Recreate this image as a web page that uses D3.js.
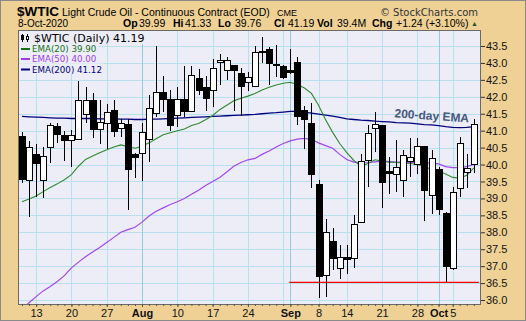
<!DOCTYPE html>
<html>
<head>
<meta charset="utf-8">
<script src="https://cdn.jsdelivr.net/npm/d3@7"></script>
<style>
  body { margin: 0; background: #fff; }
  svg { display: block; }
</style>
</head>
<body>
<div id="chart"></div>
<script>
// trading days shown on the chart
const dates = [
  "2020-07-09","2020-07-10","2020-07-13","2020-07-14","2020-07-15","2020-07-16","2020-07-17",
  "2020-07-20","2020-07-21","2020-07-22","2020-07-23","2020-07-24","2020-07-27","2020-07-28",
  "2020-07-29","2020-07-30","2020-07-31","2020-08-03","2020-08-04","2020-08-05","2020-08-06",
  "2020-08-07","2020-08-10","2020-08-11","2020-08-12","2020-08-13","2020-08-14","2020-08-17",
  "2020-08-18","2020-08-19","2020-08-20","2020-08-21","2020-08-24","2020-08-25","2020-08-26",
  "2020-08-27","2020-08-28","2020-08-31","2020-09-01","2020-09-02","2020-09-03","2020-09-04",
  "2020-09-08","2020-09-09","2020-09-10","2020-09-11","2020-09-14","2020-09-15","2020-09-16",
  "2020-09-17","2020-09-18","2020-09-21","2020-09-22","2020-09-23","2020-09-24","2020-09-25",
  "2020-09-28","2020-09-29","2020-09-30","2020-10-01","2020-10-02","2020-10-05","2020-10-06",
  "2020-10-07","2020-10-08"
];

const open = [
  40.84, 39.52, 40.30, 39.52, 40.51, 41.13, 40.86, 40.70, 40.74, 41.48, 41.90, 41.02, 41.22, 41.61,
  41.07, 41.17, 40.30, 40.33, 40.74, 41.51, 42.14, 41.93, 41.45, 41.93, 41.56, 42.53, 42.28, 42.18,
  43.02, 42.78, 42.91, 42.69, 42.43, 42.30, 43.35, 43.41, 42.96, 42.88, 42.79, 43.00, 41.59, 41.22,
  39.42, 36.72, 37.74, 36.94, 37.26, 37.22, 38.28, 40.13, 41.07, 41.14, 39.80, 39.71, 39.52, 40.10,
  40.00, 40.54, 39.09, 39.86, 38.55, 36.94, 39.30, 39.77, 39.99
];
const high = [
  40.97, 40.70, 40.60, 40.53, 41.22, 41.22, 41.00, 41.02, 42.48, 42.30, 42.10, 41.91, 41.79, 41.91,
  41.33, 41.33, 40.35, 41.22, 42.05, 43.50, 42.61, 42.20, 42.28, 42.91, 42.91, 42.81, 42.61, 43.11,
  43.26, 43.17, 42.94, 42.84, 42.74, 43.50, 43.78, 43.48, 43.53, 42.95, 43.40, 43.17, 41.73, 41.81,
  39.54, 38.39, 38.12, 37.62, 37.62, 38.51, 40.30, 41.17, 41.56, 41.14, 40.23, 40.72, 40.43, 40.77,
  40.77, 40.54, 40.43, 39.94, 38.61, 39.35, 40.82, 40.31, 41.33
];
const low = [
  39.45, 38.46, 39.05, 39.00, 40.04, 40.63, 40.11, 39.94, 40.72, 41.24, 40.77, 40.62, 40.45, 40.80,
  40.82, 38.66, 39.59, 39.52, 40.08, 41.41, 41.56, 41.00, 41.12, 41.39, 41.56, 42.05, 41.58, 41.71,
  42.35, 42.50, 41.59, 41.43, 42.18, 42.30, 42.99, 42.35, 42.59, 42.52, 42.66, 41.17, 40.46, 39.30,
  36.07, 36.10, 36.89, 36.61, 36.77, 36.96, 38.28, 39.35, 40.38, 38.73, 39.13, 39.20, 39.05, 39.64,
  39.72, 38.34, 38.53, 38.51, 36.52, 36.90, 39.03, 39.30, 39.76
];
const close = [
  39.56, 40.51, 40.04, 40.25, 41.16, 40.89, 40.70, 40.86, 41.88, 41.88, 41.02, 41.25, 41.55, 40.99,
  41.22, 39.86, 40.20, 40.95, 41.66, 42.14, 41.91, 41.14, 41.91, 41.56, 42.64, 42.18, 41.95, 42.84,
  43.08, 43.08, 42.78, 42.30, 42.56, 43.32, 43.33, 42.98, 42.94, 42.56, 42.71, 41.43, 41.33, 39.71,
  36.69, 38.00, 37.22, 37.26, 37.20, 38.24, 40.08, 40.92, 41.17, 39.46, 39.74, 39.90, 40.26, 40.21,
  40.53, 39.22, 40.18, 38.66, 36.98, 39.18, 40.63, 39.89, 41.19
];

const ema20 = [
  38.90, 38.98, 39.07, 39.20, 39.32, 39.43, 39.55, 39.70, 39.95, 40.15, 40.25, 40.35, 40.44, 40.52,
  40.58, 40.53, 40.48, 40.54, 40.64, 40.76, 40.88, 40.94, 41.00, 41.05, 41.15, 41.21, 41.32, 41.45,
  41.62, 41.75, 41.88, 41.96, 42.02, 42.10, 42.20, 42.28, 42.35, 42.40, 42.43, 42.36, 42.26, 42.10,
  41.75, 41.32, 40.95, 40.62, 40.35, 40.12, 39.95, 40.03, 40.14, 40.10, 40.07, 40.06, 40.05, 40.03,
  40.00, 39.93, 39.87, 39.80, 39.72, 39.62, 39.60, 39.68, 39.90
];
const ema50 = [
  35.73, 35.92, 36.10, 36.27, 36.40, 36.55, 36.72, 36.95, 37.12, 37.28, 37.42, 37.55, 37.70, 37.85,
  38.00, 38.08, 38.15, 38.30, 38.48, 38.62, 38.72, 38.82, 38.90, 39.00, 39.12, 39.24, 39.38, 39.50,
  39.62, 39.78, 39.95, 40.06, 40.14, 40.18, 40.30, 40.40, 40.52, 40.62, 40.70, 40.75, 40.77, 40.74,
  40.64, 40.56, 40.48, 40.30, 40.15, 40.07, 40.05, 40.06, 40.08, 40.10, 40.09, 40.07, 40.07, 40.06,
  40.06, 40.05, 40.04, 40.02, 39.94, 39.91, 39.91, 39.94, 40.00
];
const ema200 = [
  41.42, 41.41, 41.40, 41.39, 41.38, 41.37, 41.37, 41.36, 41.36, 41.36, 41.36, 41.35, 41.35, 41.35,
  41.34, 41.34, 41.33, 41.33, 41.34, 41.34, 41.35, 41.36, 41.37, 41.38, 41.39, 41.40, 41.41, 41.42,
  41.43, 41.44, 41.45, 41.46, 41.47, 41.48, 41.50, 41.52, 41.53, 41.55, 41.57, 41.57, 41.55, 41.52,
  41.49, 41.46, 41.43, 41.39, 41.35, 41.33, 41.31, 41.30, 41.28, 41.27, 41.26, 41.24, 41.23, 41.22,
  41.20, 41.18, 41.17, 41.15, 41.12, 41.10, 41.09, 41.10, 41.12
];

const yTicks = [36.0, 36.5, 37.0, 37.5, 38.0, 38.5, 39.0, 39.5, 40.0, 40.5, 41.0, 41.5, 42.0, 42.5, 43.0, 43.5];
const xTickDates = ["2020-07-13","2020-07-20","2020-07-27","2020-08-03","2020-08-10","2020-08-17","2020-08-24",
  "2020-09-01","2020-09-08","2020-09-14","2020-09-21","2020-09-28","2020-10-01","2020-10-05"];
const xTickLabels = ["13","20","27","Aug","10","17","24","Sep","8","14","21","28","Oct","5"];
const weekStarts = ["2020-07-13","2020-07-20","2020-07-27","2020-08-03","2020-08-10","2020-08-17","2020-08-24",
  "2020-08-31","2020-09-08","2020-09-14","2020-09-21","2020-09-28","2020-10-05"];
const monthStarts = ["2020-08-03","2020-09-01","2020-10-01"];

const supportLevel = 36.52;
const supportFrom = "2020-09-01";
const supportTo = "2020-10-08";

const W = 526, H = 321;
const plot = { left: 18, right: 481, top: 30, bottom: 304 };
const tan = "#efd196", plotBg = "#ededf7";

const svg = d3.select("#chart").append("svg").attr("width", W).attr("height", H)
  .style("font-family", "'Liberation Sans', Arial, sans-serif");

svg.append("rect").attr("x", 0.5).attr("y", 0.5).attr("width", W - 1).attr("height", H - 1)
  .attr("fill", tan).attr("stroke", "#8a8a8a");

const x = d3.scaleLinear().domain([-0.567, 65.01]).range([plot.left, plot.right]);
const y = d3.scaleLinear().domain([35.883, 43.972]).range([plot.bottom, plot.top]);
const xd = (d) => x(dates.indexOf(d));

// plot background
svg.append("rect").attr("x", plot.left).attr("y", plot.top)
  .attr("width", plot.right - plot.left).attr("height", plot.bottom - plot.top).attr("fill", plotBg);

svg.append("clipPath").attr("id", "clip").append("rect")
  .attr("x", plot.left).attr("y", plot.top)
  .attr("width", plot.right - plot.left).attr("height", plot.bottom - plot.top);

const grid = svg.append("g").attr("shape-rendering", "crispEdges");
grid.selectAll(".hg").data(yTicks).enter().append("line")
  .attr("x1", plot.left).attr("x2", plot.right)
  .attr("y1", (d) => Math.round(y(d)) + 0.5).attr("y2", (d) => Math.round(y(d)) + 0.5)
  .attr("stroke", "#b7e1ee");
grid.selectAll(".vg").data(weekStarts).enter().append("line")
  .attr("x1", (d) => Math.round(xd(d)) + 0.5).attr("x2", (d) => Math.round(xd(d)) + 0.5)
  .attr("y1", plot.top).attr("y2", plot.bottom)
  .attr("stroke", "#b7e1ee");
grid.selectAll(".mg").data(monthStarts).enter().append("line")
  .attr("x1", (d) => Math.round(xd(d)) + 0.5).attr("x2", (d) => Math.round(xd(d)) + 0.5)
  .attr("y1", plot.top).attr("y2", plot.bottom)
  .attr("stroke", "#8fcde2");

// legend backgrounds (cover the grid)
const legendG = svg.append("g");

const g = svg.append("g").attr("clip-path", "url(#clip)");

const idx = d3.range(dates.length);

// moving averages
const lineOf = (arr) => d3.line().x((i) => x(i)).y((i) => y(arr[i]));
g.append("path").attr("d", lineOf(ema200)(idx)).attr("fill", "none").attr("stroke", "#00007f").attr("stroke-width", 1.3);
g.append("path").attr("d", lineOf(ema50)(idx)).attr("fill", "none").attr("stroke", "#a147ef").attr("stroke-width", 1.2);
g.append("path").attr("d", lineOf(ema20)(idx)).attr("fill", "none").attr("stroke", "#2f8a2f").attr("stroke-width", 1.1);

// support line
g.append("line")
  .attr("x1", xd(supportFrom) - 1).attr("x2", xd(supportTo) + 5)
  .attr("y1", y(supportLevel)).attr("y2", y(supportLevel))
  .attr("stroke", "#ff0000").attr("stroke-width", 1.2);

// candles
const candles = g.selectAll(".candle").data(idx).enter().append("g").attr("class", "candle")
  .attr("shape-rendering", "crispEdges");
candles.append("line")
  .attr("x1", (i) => Math.round(x(i)) + 0.5).attr("x2", (i) => Math.round(x(i)) + 0.5)
  .attr("y1", (i) => y(high[i])).attr("y2", (i) => y(low[i]))
  .attr("stroke", "#000");
candles.append("rect")
  .attr("x", (i) => Math.round(x(i)) - 2.5)
  .attr("width", 6)
  .attr("y", (i) => y(Math.max(open[i], close[i])))
  .attr("height", (i) => Math.max(1, y(Math.min(open[i], close[i])) - y(Math.max(open[i], close[i]))))
  .attr("fill", (i) => (close[i] >= open[i] ? "#fff" : "#000"))
  .attr("stroke", "#000");

// annotation on the 200-day EMA
const ax = x(dates.indexOf("2020-09-30")), ay = y(41.32);
svg.append("text").attr("transform", `translate(${ax},${ay}) rotate(4)`)
  .attr("text-anchor", "middle").attr("font-size", 12).attr("font-weight", "bold")
  .attr("fill", "#46597d").text("200-day EMA");

// plot frame
svg.append("rect").attr("x", plot.left + 0.5).attr("y", plot.top + 0.5)
  .attr("width", plot.right - plot.left - 1).attr("height", plot.bottom - plot.top)
  .attr("fill", "none").attr("stroke", "#6a6a6a");

// right axis
const yAxis = svg.append("g").attr("transform", `translate(${plot.right},0)`)
  .call(d3.axisRight(y).tickValues(yTicks).tickFormat(d3.format(".1f")).tickSize(4).tickPadding(1));
yAxis.select(".domain").remove();
yAxis.selectAll("line").attr("stroke", "#333");
yAxis.selectAll("text").attr("font-size", 11).attr("fill", "#111")
  .style("font-family", "'Liberation Sans', Arial, sans-serif");

// bottom axis: small day ticks + labels
svg.append("g").attr("transform", `translate(0,${plot.bottom})`)
  .call(d3.axisBottom(x).tickValues(idx).tickSize(2).tickFormat(""))
  .call((s) => s.select(".domain").remove())
  .call((s) => s.selectAll("line").attr("stroke", "#555"));
const xAxis = svg.append("g").attr("transform", `translate(0,${plot.bottom})`)
  .call(d3.axisBottom(x).tickValues(xTickDates.map((d) => dates.indexOf(d)))
    .tickSize(3).tickPadding(2).tickFormat((d, k) => xTickLabels[k]));
xAxis.select(".domain").remove();
xAxis.selectAll("line").attr("stroke", "#555");
xAxis.selectAll("text").attr("font-size", 11).attr("fill", "#111")
  .style("font-family", "'Liberation Sans', Arial, sans-serif")
  .attr("font-weight", (d, k) => (/^[A-Z]/.test(xTickLabels[k]) ? "bold" : "normal"));

// legend inside plot
const legendItems = [
  { text: "$WTIC (Daily) 41.19", color: "#000", size: 11, y: 42 },
  { text: "EMA(20) 39.90", color: "#137113", size: 8.7, y: 52 },
  { text: "EMA(50) 40.00", color: "#9b3ee8", size: 8.7, y: 62 },
  { text: "EMA(200) 41.12", color: "#000080", size: 8.7, y: 72.5 }
];
legendItems.forEach((it, k) => {
  const t = svg.append("text").attr("x", k === 0 ? 34 : 32).attr("y", it.y)
    .attr("font-size", it.size).attr("fill", it.color)
    .style("font-family", "'DejaVu Sans', Verdana, sans-serif").text(it.text);
  const w = t.node().getComputedTextLength();
  legendG.append("rect").attr("x", plot.left + 1).attr("y", it.y - (k === 0 ? 11 : 9))
    .attr("width", (k === 0 ? 34 : 32) + w + 2 - plot.left - 1).attr("height", k === 0 ? 13 : 10.5)
    .attr("fill", plotBg);
  if (k > 0) {
    svg.append("line").attr("x1", 21).attr("x2", 30).attr("y1", it.y - 3).attr("y2", it.y - 3)
      .attr("stroke", it.color).attr("stroke-width", 2);
  }
});
// small candle icon
const icon = svg.append("g").attr("shape-rendering", "crispEdges");
icon.append("line").attr("x1", 22.5).attr("x2", 22.5).attr("y1", 34).attr("y2", 42).attr("stroke", "#000");
icon.append("rect").attr("x", 21).attr("y", 35).attr("width", 3).attr("height", 5).attr("fill", "#000");
icon.append("line").attr("x1", 27.5).attr("x2", 27.5).attr("y1", 34).attr("y2", 42).attr("stroke", "#000");
icon.append("rect").attr("x", 26.5).attr("y", 36.5).attr("width", 2).attr("height", 3).attr("fill", "#fff").attr("stroke", "#000");

// header
const hdr = svg.append("g").attr("fill", "#000");
hdr.append("text").attr("x", 17).attr("y", 16).attr("font-size", 13.5).attr("font-weight", "bold").text("$WTIC");
hdr.append("text").attr("x", 62).attr("y", 16).attr("font-size", 10.5).text("Light Crude Oil - Continuous Contract (EOD)");
hdr.append("text").attr("x", 277).attr("y", 16).attr("font-size", 9).text("CME");
hdr.append("text").attr("x", 478).attr("y", 16).attr("text-anchor", "end").attr("font-size", 10)
  .attr("fill", "#333").style("font-family", "'DejaVu Sans', Verdana, sans-serif").text("\u00A9 StockCharts.com");
hdr.append("text").attr("x", 18).attr("y", 27).attr("font-size", 10).text("8-Oct-2020");

const quote = [
  { label: "Op", lx: 123, value: "39.99", vx: 139 },
  { label: "Hi", lx: 173, value: "41.33", vx: 185 },
  { label: "Lo", lx: 218, value: "39.76", vx: 235 },
  { label: "Cl", lx: 274, value: "41.19", vx: 288 },
  { label: "Vol", lx: 317, value: "39.4M", vx: 337 },
  { label: "Chg", lx: 372, value: "+1.24 (+3.10%)", vx: 396 }
];
quote.forEach((q) => {
  hdr.append("text").attr("x", q.lx).attr("y", 27).attr("font-size", 10.5).attr("font-weight", "bold").text(q.label);
  hdr.append("text").attr("x", q.vx).attr("y", 27).attr("font-size", 10.5).text(q.value);
});
hdr.append("text").attr("x", 471).attr("y", 26).attr("font-size", 7).attr("fill", "#2f4f2f").text("\u25B2");
</script>
</body>
</html>
